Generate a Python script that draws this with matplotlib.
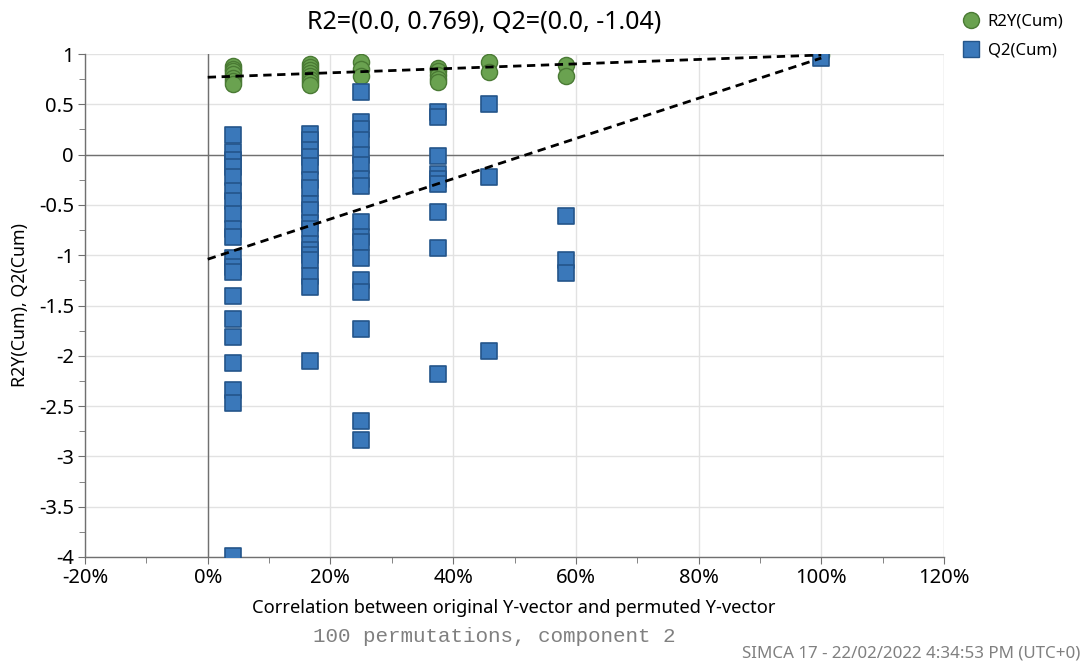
import numpy as np
import matplotlib
matplotlib.use('Agg')
import matplotlib.pyplot as plt
from matplotlib.lines import Line2D
from matplotlib.ticker import MultipleLocator, FuncFormatter

plt.rcParams['font.family'] = ['Noto Sans', 'DejaVu Sans']
plt.rcParams['axes.unicode_minus'] = False

# correlation between original and permuted Y (fractions), one per permutation group
perm_corr = [1/24, 4/24, 6/24, 9/24, 11/24, 14/24, 1.0]

r2y_groups = [
    [0.88, 0.85, 0.83, 0.80, 0.76, 0.73, 0.70],
    [0.90, 0.87, 0.84, 0.81, 0.78, 0.75, 0.72, 0.69],
    [0.92, 0.85, 0.78],
    [0.86, 0.83, 0.79, 0.75, 0.72],
    [0.92, 0.82],
    [0.89, 0.78],
    [0.99],
]
q2_groups = [
    [0.19, 0.03, -0.05, -0.12, -0.22, -0.36, -0.46, -0.59, -0.74, -0.82,
     -1.03, -1.12, -1.17, -1.41, -1.63, -1.81, -2.07, -2.34, -2.47, -3.99],
    [0.20, 0.15, 0.05, -0.02, -0.11, -0.25, -0.33, -0.49, -0.55, -0.68,
     -0.74, -0.89, -0.95, -1.00, -1.05, -1.21, -1.32, -2.05],
    [0.62, 0.32, 0.25, 0.15, 0.00, -0.10, -0.24, -0.31, -0.67, -0.82,
     -0.87, -1.03, -1.25, -1.37, -1.73, -2.65, -2.84],
    [0.42, 0.37, -0.01, -0.19, -0.24, -0.29, -0.57, -0.93, -2.18],
    [0.50, -0.22, -1.95],
    [-0.61, -1.05, -1.18],
    [0.96],
]
r2_intercept = 0.769
q2_intercept = -1.04

green = '#6aa250'
green_edge = '#4a7a34'
blue = '#3a78ba'
blue_edge = '#24558a'

r2x = np.concatenate([[c] * len(g) for c, g in zip(perm_corr, r2y_groups)])
r2y = np.concatenate(r2y_groups)
q2x = np.concatenate([[c] * len(g) for c, g in zip(perm_corr, q2_groups)])
q2y = np.concatenate(q2_groups)

fig = plt.figure(figsize=(10.86, 6.61), dpi=100)
ax = fig.add_axes([85 / 1086, 1 - 557 / 661, (944 - 85) / 1086, (557 - 54) / 661])

ax.scatter(r2x, r2y, s=135, marker='o', c=green, edgecolors=green_edge, linewidths=1.0, zorder=3)
ax.scatter(q2x, q2y, s=120, marker='s', c=blue, edgecolors=blue_edge, linewidths=1.2, zorder=4)

# regression lines from intercept to the original model
ax.plot([0, perm_corr[-1]], [r2_intercept, r2y_groups[-1][0]], color='black', lw=2, ls=(0, (3, 2)), zorder=5)
ax.plot([0, perm_corr[-1]], [q2_intercept, q2_groups[-1][0]], color='black', lw=2, ls=(0, (3, 2)), zorder=5)

ax.axhline(0, color='#707070', lw=1, zorder=2)
ax.axvline(0, color='#707070', lw=1, zorder=2)

ax.set_xlim(-0.2, 1.2)
ax.set_ylim(-4, 1)
ax.xaxis.set_major_locator(MultipleLocator(0.2))
ax.xaxis.set_minor_locator(MultipleLocator(0.1))
ax.yaxis.set_major_locator(MultipleLocator(0.5))
ax.yaxis.set_minor_locator(MultipleLocator(0.25))
ax.xaxis.set_major_formatter(FuncFormatter(lambda v, p: f'{v * 100:.0f}%'))
ax.yaxis.set_major_formatter(FuncFormatter(lambda v, p: f'{v:g}'))
ax.grid(True, which='major', color='#e2e2e2', lw=1, zorder=0)
ax.set_axisbelow(True)

for side in ['top', 'right']:
    ax.spines[side].set_visible(False)
for side in ['left', 'bottom']:
    ax.spines[side].set_color('#707070')
    ax.spines[side].set_linewidth(1)
ax.tick_params(which='both', color='#707070', labelsize=14.5, labelcolor='black')
ax.tick_params(which='major', length=5, pad=3)
ax.tick_params(which='minor', length=4)
# right edge grid line
ax.axvline(1.2, color='#e2e2e2', lw=1, zorder=0)

fig.text(484 / 1086, 1 - 22 / 661, 'R2=(0.0, 0.769), Q2=(0.0, -1.04)', ha='center', va='center', fontsize=18)
fig.text(514 / 1086, 1 - 608 / 661, 'Correlation between original Y-vector and permuted Y-vector',
         ha='center', va='center', fontsize=13.2)
fig.text(20 / 1086, 1 - 305 / 661, 'R2Y(Cum), Q2(Cum)', rotation=90, ha='center', va='center', fontsize=12.8)
fig.text(494 / 1086, 1 - 636 / 661, '100 permutations, component 2', ha='center', va='center',
         fontsize=15, color='#808080', family='Liberation Mono')
fig.text(1080 / 1086, 1 - 653 / 661, 'SIMCA 17 - 22/02/2022 4:34:53 PM (UTC+0)', ha='right', va='center',
         fontsize=12.2, color='#808080')

handles = [
    Line2D([0], [0], marker='o', ls='none', markersize=11.5, markerfacecolor=green, markeredgecolor=green_edge),
    Line2D([0], [0], marker='s', ls='none', markersize=11, markerfacecolor=blue, markeredgecolor=blue_edge),
]
fig.legend(handles, ['R2Y(Cum)', 'Q2(Cum)'], loc='upper left', bbox_to_anchor=(956 / 1086, 1 - 9 / 661),
           frameon=False, fontsize=12, handletextpad=0.4, labelspacing=0.75, handlelength=1.2,
           borderaxespad=0, borderpad=0.3)

plt.savefig('out.png', dpi=100)
